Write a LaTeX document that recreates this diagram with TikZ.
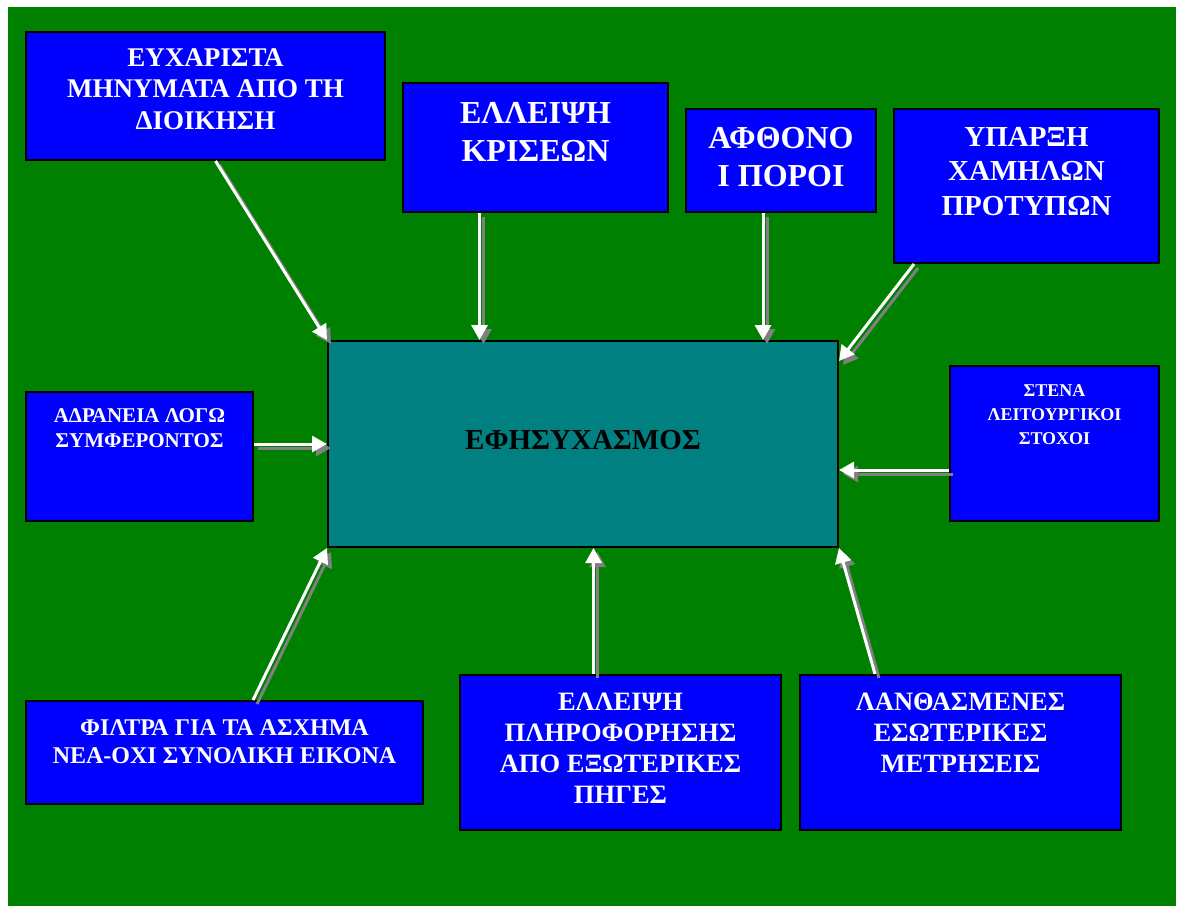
\documentclass[tikz,border=0pt]{standalone}
\usepackage{fontspec}
\setmainfont{Liberation Serif}
\usetikzlibrary{arrows.meta,calc}
\definecolor{bggreen}{HTML}{008000}
\definecolor{boxblue}{HTML}{0000FF}
\definecolor{centreteal}{HTML}{008080}
\definecolor{shadowgray}{HTML}{808080}
\newcommand\flow[2]{\draw[shd] #1 -- #2; \draw[arr] #1 -- #2;}
\begin{document}
\begin{tikzpicture}[x=1pt,y=-1pt,
  box/.style={draw=black, line width=2pt, fill=boxblue, inner sep=0pt},
  txt/.style={text=white, align=center, inner sep=0pt, anchor=north},
  arr/.style={draw=white, line width=3pt, -{Triangle[length=15pt,width=16pt]}},
  shd/.style={draw=shadowgray, line width=3pt, -{Triangle[length=15pt,width=16pt]},
    transform canvas={shift={(4pt,-4pt)}}},
  fa/.style={font=\fontsize{27}{31.5}\selectfont\bfseries},
  fb/.style={font=\fontsize{32}{38}\selectfont\bfseries},
  fc/.style={font=\fontsize{29}{34.5}\selectfont\bfseries},
  fm/.style={font=\fontsize{29}{34}\selectfont\bfseries},
  fd/.style={font=\fontsize{21}{25}\selectfont\bfseries},
  fg/.style={font=\fontsize{18}{24}\selectfont\bfseries},
  fe/.style={font=\fontsize{24}{28}\selectfont\bfseries},
  ff/.style={font=\fontsize{26.5}{31}\selectfont\bfseries}]
\useasboundingbox (0,0) rectangle (1177,906);
\fill[bggreen] (8,7) rectangle (1176,906);

% boxes
\node[box, minimum width=359pt, minimum height=128pt] (b1) at (205.5,96) {};
\node[box, minimum width=265pt, minimum height=129pt] (b2) at (535.5,147.5) {};
\node[box, minimum width=190pt, minimum height=103pt] (b3) at (781,160.5) {};
\node[box, minimum width=265pt, minimum height=154pt] (b4) at (1026.5,186) {};
\node[box, fill=centreteal, minimum width=510pt, minimum height=206pt] (c) at (583,444) {};
\node[box, minimum width=227pt, minimum height=129pt] (b6) at (139.5,456.5) {};
\node[box, minimum width=209pt, minimum height=155pt] (b7) at (1054.5,443.5) {};
\node[box, minimum width=397pt, minimum height=103pt] (b8) at (224.5,752.5) {};
\node[box, minimum width=321pt, minimum height=155pt] (b9) at (620.5,752.5) {};
\node[box, minimum width=321pt, minimum height=155pt] (b10) at (960.5,752.5) {};

% texts
\node[txt, fa] (t1) at ([yshift=-17pt]b1.north) {ΕΥΧΑΡΙΣΤΑ\\ΜΗΝΥΜΑΤΑ ΑΠΟ ΤΗ\\ΔΙΟΙΚΗΣΗ};
\node[txt, fb] (t2) at ([yshift=-20pt]b2.north) {ΕΛΛΕΙΨΗ\\ΚΡΙΣΕΩΝ};
\node[txt, fb] (t3) at ([yshift=-19pt]b3.north) {ΑΦΘΟΝΟ\\Ι ΠΟΡΟΙ};
\node[txt, fc] (t4) at ([yshift=-19pt]b4.north) {ΥΠΑΡΞΗ\\ΧΑΜΗΛΩΝ\\ΠΡΟΤΥΠΩΝ};
\node[fm, text=black, inner sep=0pt] (tc) at ([yshift=4pt]c.center) {ΕΦΗΣΥΧΑΣΜΟΣ};
\node[txt, fd] (t6) at ([yshift=-17pt]b6.north) {ΑΔΡΑΝΕΙΑ ΛΟΓΩ\\ΣΥΜΦΕΡΟΝΤΟΣ};
\node[txt, fg] (t7) at ([yshift=-19pt]b7.north) {ΣΤΕΝΑ\\ΛΕΙΤΟΥΡΓΙΚΟΙ\\ΣΤΟΧΟΙ};
\node[txt, fe] (t8) at ([yshift=-19pt]b8.north) {ΦΙΛΤΡΑ ΓΙΑ ΤΑ ΑΣΧΗΜΑ\\ΝΕΑ-ΟΧΙ ΣΥΝΟΛΙΚΗ ΕΙΚΟΝΑ};
\node[txt, ff] (t9) at ([yshift=-19pt]b9.north) {ΕΛΛΕΙΨΗ\\ΠΛΗΡΟΦΟΡΗΣΗΣ\\ΑΠΟ ΕΞΩΤΕΡΙΚΕΣ\\ΠΗΓΕΣ};
\node[txt, ff] (t10) at ([yshift=-19pt]b10.north) {ΛΑΝΘΑΣΜΕΝΕΣ\\ΕΣΩΤΕΡΙΚΕΣ\\ΜΕΤΡΗΣΕΙΣ};

% arrow start points
\coordinate (s1) at ([xshift=10pt]b1.south);
\coordinate (s2) at ([xshift=-56pt]b2.south);
\coordinate (s3) at ([xshift=-18pt]b3.south);
\coordinate (s4) at ([xshift=21pt]b4.south west);
\coordinate (s6) at ([yshift=12.5pt]b6.east);
\coordinate (s7) at ([yshift=-26.5pt]b7.west);
\coordinate (s8) at ([xshift=28.5pt]b8.north);
\coordinate (s9) at ([xshift=-27pt]b9.north);
\coordinate (s10) at ([xshift=-85.5pt]b10.north);

% arrows into the centre box
\flow{(s1)}{(c.north west)}
\flow{(s2)}{(s2 |- c.north)}
\flow{(s3)}{(s3 |- c.north)}
\flow{(s4)}{([yshift=-21pt]c.north east)}
\flow{(s6)}{(s6 -| c.west)}
\flow{(s7)}{(s7 -| c.east)}
\flow{(s8)}{(c.south west)}
\flow{(s9)}{(s9 |- c.south)}
\flow{(s10)}{(c.south east)}
\end{tikzpicture}
\end{document}
